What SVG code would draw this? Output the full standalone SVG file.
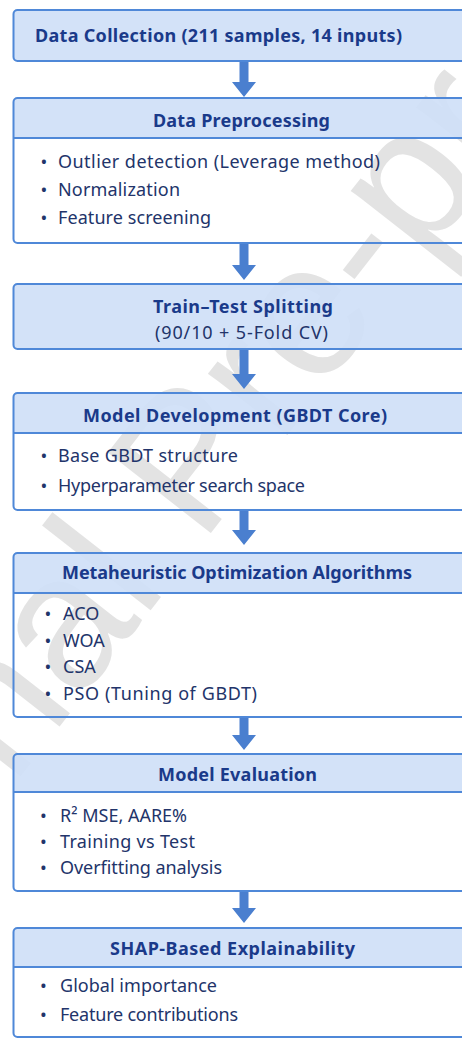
<svg xmlns="http://www.w3.org/2000/svg" width="462" height="1039" viewBox="0 0 462 1039">
<defs>
<style>
.box{fill:none;stroke:#4f88d8;stroke-width:2}
.hdr{fill:#cfe0f7;fill-opacity:0.92}
.full{fill:#cfe0f7;fill-opacity:0.92;stroke:#4f88d8;stroke-width:2}
.sep{stroke:#4f88d8;stroke-width:2}
.h{font-family:"Noto Sans","Open Sans",sans-serif;font-size:18px;font-weight:bold;fill:#1a3a8a}
.t{font-family:"Noto Sans","Open Sans",sans-serif;font-size:18px;fill:#22346a}
.arr{fill:#4a7fcf}
.wm{font-family:"Liberation Sans",Arial,sans-serif;font-size:190px;fill:#e3e3e3}
</style>
</defs>
<rect width="462" height="1039" fill="#ffffff"/>
<text class="wm" transform="translate(-215,1078) rotate(-52)">Journal Pre-proof</text>

<g id="n1">
<rect class="full" x="13.5" y="10" width="452" height="51" rx="4"/>
<text class="h" x="35" y="42" textLength="367">Data Collection (211 samples, 14 inputs)</text>
</g>

<g id="n2">
<path class="hdr" d="M17.5 98 H465.5 V138 H13.5 V102 A4 4 0 0 1 17.5 98 Z"/>
<line class="sep" x1="13.5" y1="138" x2="465.5" y2="138"/>
<rect class="box" x="13.5" y="98" width="452" height="145" rx="4"/>
<text class="h" x="241.5" y="127" text-anchor="middle" textLength="177">Data Preprocessing</text>
<text class="t" y="168"><tspan x="40.5">•</tspan><tspan x="58" textLength="322">Outlier detection (Leverage method)</tspan></text>
<text class="t" y="196"><tspan x="40.5">•</tspan><tspan x="58" textLength="122">Normalization</tspan></text>
<text class="t" y="224"><tspan x="40.5">•</tspan><tspan x="58" textLength="153">Feature screening</tspan></text>
</g>

<g id="n3">
<rect class="full" x="13.5" y="284" width="452" height="65" rx="4"/>
<text class="h" x="243" y="313" text-anchor="middle" textLength="180">Train–Test Splitting</text>
<text class="t" x="241.5" y="339" text-anchor="middle" textLength="173">(90/10 + 5-Fold CV)</text>
</g>

<g id="n4">
<path class="hdr" d="M17.5 393 H465.5 V433 H13.5 V397 A4 4 0 0 1 17.5 393 Z"/>
<line class="sep" x1="13.5" y1="433" x2="465.5" y2="433"/>
<rect class="box" x="13.5" y="393" width="452" height="117" rx="4"/>
<text class="h" x="235" y="422" text-anchor="middle" textLength="304">Model Development (GBDT Core)</text>
<text class="t" y="462"><tspan x="40.5">•</tspan><tspan x="58" textLength="180">Base GBDT structure</tspan></text>
<text class="t" y="492"><tspan x="40.5">•</tspan><tspan x="58" textLength="247">Hyperparameter search space</tspan></text>
</g>

<g id="n5">
<path class="hdr" d="M17.5 553 H465.5 V593 H13.5 V557 A4 4 0 0 1 17.5 553 Z"/>
<line class="sep" x1="13.5" y1="593" x2="465.5" y2="593"/>
<rect class="box" x="13.5" y="553" width="452" height="164" rx="4"/>
<text class="h" x="237" y="579" text-anchor="middle" textLength="350">Metaheuristic Optimization Algorithms</text>
<text class="t" y="620"><tspan x="44.5">•</tspan><tspan x="63">ACO</tspan></text>
<text class="t" y="647"><tspan x="44.5">•</tspan><tspan x="63">WOA</tspan></text>
<text class="t" y="673"><tspan x="44.5">•</tspan><tspan x="63">CSA</tspan></text>
<text class="t" y="700"><tspan x="44.5">•</tspan><tspan x="63" textLength="194">PSO (Tuning of GBDT)</tspan></text>
</g>

<g id="n6">
<path class="hdr" d="M17.5 754 H465.5 V792 H13.5 V758 A4 4 0 0 1 17.5 754 Z"/>
<line class="sep" x1="13.5" y1="792" x2="465.5" y2="792"/>
<rect class="box" x="13.5" y="754" width="452" height="137" rx="4"/>
<text class="h" x="237.5" y="781" text-anchor="middle" textLength="159">Model Evaluation</text>
<text class="t" y="822"><tspan x="40">•</tspan><tspan x="60">R² MSE, AARE%</tspan></text>
<text class="t" y="848"><tspan x="40">•</tspan><tspan x="60" textLength="135">Training vs Test</tspan></text>
<text class="t" y="874"><tspan x="40">•</tspan><tspan x="60" textLength="162">Overfitting analysis</tspan></text>
</g>

<g id="n7">
<path class="hdr" d="M17.5 928 H465.5 V967 H13.5 V932 A4 4 0 0 1 17.5 928 Z"/>
<line class="sep" x1="13.5" y1="967" x2="465.5" y2="967"/>
<rect class="box" x="13.5" y="928" width="452" height="109" rx="4"/>
<text class="h" x="232.5" y="955" text-anchor="middle" textLength="245">SHAP-Based Explainability</text>
<text class="t" y="992"><tspan x="40">•</tspan><tspan x="60" textLength="157">Global importance</tspan></text>
<text class="t" y="1021"><tspan x="40">•</tspan><tspan x="60" textLength="178">Feature contributions</tspan></text>
</g>

<g id="connectors">
<path class="arr" d="M239.5 62 H248.5 V82 H256 L244 97 L232 82 H239.5 Z"/>
<path class="arr" d="M239.5 244 H248.5 V265 H256 L244 280 L232 265 H239.5 Z"/>
<path class="arr" d="M239.5 350 H248.5 V374 H256 L244 389 L232 374 H239.5 Z"/>
<path class="arr" d="M239.5 511 H248.5 V530 H256 L244 545 L232 530 H239.5 Z"/>
<path class="arr" d="M239.5 718 H248.5 V735 H256 L244 750 L232 735 H239.5 Z"/>
<path class="arr" d="M239.5 892 H248.5 V908 H256 L244 923 L232 908 H239.5 Z"/>
</g>
</svg>
